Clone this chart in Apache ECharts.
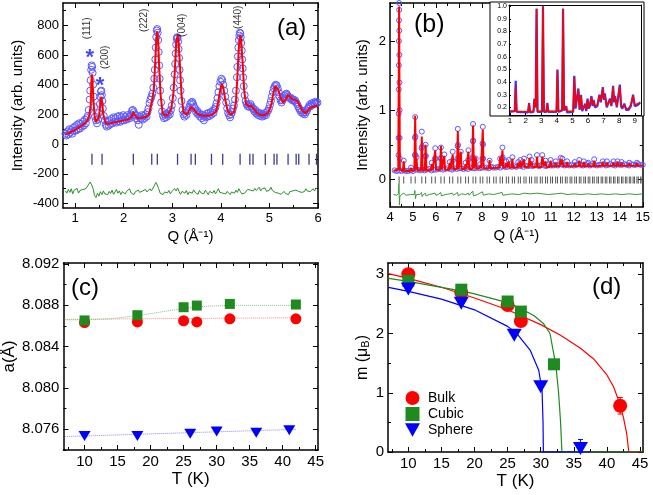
<!DOCTYPE html>
<html><head><meta charset="utf-8">
<script src="https://cdn.jsdelivr.net/npm/echarts@6/dist/echarts.min.js"></script>
<style>html,body{margin:0;padding:0;background:#fff}#c{width:653px;height:495px}</style>
</head><body><div id="c"></div>
<script>
// ---------- Panel (a) ----------
const aCalc = [[0.80,65],[0.85,72],[0.90,80],[0.95,88],[1.00,96],[1.05,106],[1.10,118],[1.15,128],[1.20,141],[1.25,160],[1.29,190],[1.32,260],[1.335,420],[1.345,470],[1.36,400],[1.38,280],[1.40,190],[1.43,150],[1.46,145],[1.49,180],[1.52,280],[1.54,320],[1.56,270],[1.58,200],[1.61,160],[1.65,135],[1.70,138],[1.80,145],[1.90,152],[2.00,160],[2.10,168],[2.16,185],[2.20,215],[2.24,190],[2.28,175],[2.35,176],[2.45,182],[2.52,200],[2.56,260],[2.59,305],[2.62,365],[2.65,560],[2.67,700],[2.69,760],[2.71,690],[2.73,520],[2.76,330],[2.80,210],[2.85,190],[2.92,200],[2.98,240],[3.02,330],[3.05,480],[3.08,680],[3.11,735],[3.13,680],[3.16,520],[3.19,330],[3.23,215],[3.28,200],[3.33,215],[3.38,250],[3.41,258],[3.45,235],[3.49,215],[3.55,198],[3.65,190],[3.75,192],[3.82,198],[3.90,220],[3.95,290],[3.99,370],[4.02,405],[4.05,380],[4.09,300],[4.14,225],[4.20,198],[4.27,215],[4.31,280],[4.34,450],[4.37,650],[4.40,735],[4.42,690],[4.45,540],[4.48,360],[4.52,270],[4.57,255],[4.62,258],[4.67,240],[4.73,215],[4.80,198],[4.90,195],[4.98,215],[5.04,270],[5.08,340],[5.12,390],[5.15,398],[5.19,360],[5.23,310],[5.28,280],[5.33,300],[5.38,330],[5.43,315],[5.48,300],[5.53,298],[5.58,285],[5.63,255],[5.68,225],[5.74,208],[5.79,225],[5.84,245],[5.90,252],[5.96,258],[6.00,255]];
const aObs = [[0.80,70],[0.82,58],[0.84,85],[0.86,65],[0.88,100],[0.90,78],[0.92,95],[0.94,70],[0.96,110],[0.98,88],[1.00,120],[1.02,92],[1.04,130],[1.06,100],[1.08,140],[1.10,105],[1.12,135],[1.14,118],[1.16,150],[1.18,125],[1.20,165],[1.22,140],[1.24,175],[1.26,190],[1.28,230],[1.30,300],[1.31,360],[1.32,430],[1.33,500],[1.34,530],[1.35,520],[1.36,480],[1.37,400],[1.38,320],[1.39,250],[1.41,185],[1.43,160],[1.45,140],[1.47,165],[1.49,210],[1.51,270],[1.52,320],[1.53,355],[1.54,360],[1.55,330],[1.56,290],[1.57,240],[1.59,190],[1.61,160],[1.63,130],[1.65,118],[1.67,150],[1.69,125],[1.71,160],[1.73,135],[1.75,170],[1.77,140],[1.79,180],[1.81,150],[1.83,175],[1.85,145],[1.87,185],[1.89,155],[1.91,190],[1.93,150],[1.95,180],[1.97,160],[1.99,195],[2.01,160],[2.03,185],[2.05,165],[2.07,195],[2.09,170],[2.11,185],[2.13,175],[2.15,200],[2.17,225],[2.19,230],[2.21,215],[2.23,200],[2.25,175],[2.27,190],[2.29,160],[2.31,130],[2.33,185],[2.35,170],[2.37,195],[2.39,165],[2.41,190],[2.43,175],[2.45,200],[2.47,185],[2.49,215],[2.51,240],[2.53,275],[2.55,300],[2.57,320],[2.59,340],[2.61,380],[2.63,440],[2.64,500],[2.65,570],[2.66,650],[2.67,720],[2.68,765],[2.69,775],[2.70,750],[2.71,700],[2.72,620],[2.73,530],[2.74,440],[2.75,360],[2.77,280],[2.79,220],[2.81,190],[2.83,175],[2.85,200],[2.87,180],[2.89,205],[2.91,190],[2.93,215],[2.95,200],[2.97,230],[2.99,260],[3.01,310],[3.03,380],[3.05,470],[3.06,540],[3.07,610],[3.08,670],[3.09,710],[3.10,720],[3.11,715],[3.12,690],[3.13,640],[3.14,580],[3.15,500],[3.16,430],[3.17,360],[3.19,290],[3.21,230],[3.23,200],[3.25,185],[3.27,210],[3.29,195],[3.31,220],[3.33,230],[3.35,250],[3.37,270],[3.39,280],[3.41,285],[3.43,270],[3.45,250],[3.47,240],[3.49,215],[3.51,225],[3.53,200],[3.55,210],[3.57,185],[3.59,200],[3.61,175],[3.63,195],[3.65,160],[3.67,190],[3.69,180],[3.71,205],[3.73,185],[3.75,210],[3.77,190],[3.79,215],[3.81,200],[3.83,225],[3.85,210],[3.87,235],[3.89,250],[3.91,275],[3.93,310],[3.95,350],[3.97,390],[3.99,420],[4.01,440],[4.03,430],[4.05,400],[4.07,360],[4.09,320],[4.11,280],[4.13,240],[4.15,210],[4.17,195],[4.19,180],[4.21,200],[4.23,215],[4.25,240],[4.27,260],[4.29,300],[4.31,360],[4.33,450],[4.34,520],[4.35,590],[4.36,650],[4.37,700],[4.38,730],[4.39,750],[4.40,745],[4.41,720],[4.42,680],[4.43,630],[4.44,570],[4.45,510],[4.46,450],[4.47,390],[4.49,330],[4.51,290],[4.53,270],[4.55,255],[4.57,265],[4.59,250],[4.61,270],[4.63,255],[4.65,245],[4.67,235],[4.69,220],[4.71,230],[4.73,205],[4.75,215],[4.77,195],[4.79,210],[4.81,190],[4.83,205],[4.85,185],[4.87,200],[4.89,190],[4.91,210],[4.93,195],[4.95,215],[4.97,225],[4.99,240],[5.01,265],[5.03,290],[5.05,320],[5.07,350],[5.09,375],[5.11,390],[5.13,400],[5.15,395],[5.17,375],[5.19,350],[5.21,320],[5.23,295],[5.25,280],[5.27,295],[5.29,310],[5.31,325],[5.33,335],[5.35,340],[5.37,330],[5.39,320],[5.41,315],[5.43,305],[5.45,310],[5.47,295],[5.49,300],[5.51,290],[5.53,295],[5.55,280],[5.57,270],[5.59,255],[5.61,240],[5.63,230],[5.65,215],[5.67,225],[5.69,205],[5.71,215],[5.73,200],[5.75,215],[5.77,225],[5.79,240],[5.81,250],[5.83,265],[5.85,255],[5.87,275],[5.89,265],[5.91,280],[5.93,270],[5.95,285],[5.97,275],[5.99,280]];
const aDiff = [[0.80,-315],[0.83,-330],[0.86,-305],[0.89,-325],[0.92,-300],[0.95,-335],[0.98,-310],[1.01,-320],[1.04,-298],[1.07,-330],[1.10,-312],[1.13,-325],[1.16,-305],[1.19,-318],[1.22,-300],[1.25,-290],[1.28,-270],[1.31,-255],[1.34,-275],[1.37,-300],[1.40,-345],[1.43,-360],[1.46,-330],[1.49,-350],[1.52,-320],[1.55,-340],[1.58,-315],[1.61,-335],[1.64,-325],[1.67,-340],[1.70,-318],[1.73,-332],[1.76,-310],[1.79,-338],[1.82,-322],[1.85,-305],[1.88,-330],[1.91,-315],[1.94,-340],[1.97,-320],[2.00,-312],[2.03,-335],[2.06,-318],[2.09,-325],[2.12,-300],[2.15,-328],[2.18,-315],[2.21,-340],[2.24,-320],[2.27,-330],[2.30,-310],[2.33,-325],[2.36,-335],[2.39,-315],[2.42,-328],[2.45,-305],[2.48,-322],[2.51,-318],[2.54,-300],[2.57,-315],[2.60,-305],[2.63,-280],[2.66,-258],[2.69,-275],[2.72,-300],[2.75,-330],[2.78,-318],[2.81,-340],[2.84,-322],[2.87,-310],[2.90,-328],[2.93,-312],[2.96,-335],[2.99,-318],[3.02,-325],[3.05,-300],[3.08,-315],[3.11,-295],[3.14,-320],[3.17,-338],[3.20,-318],[3.23,-305],[3.26,-330],[3.29,-312],[3.32,-340],[3.35,-322],[3.38,-315],[3.41,-330],[3.44,-308],[3.47,-325],[3.50,-320],[3.53,-338],[3.56,-312],[3.59,-328],[3.62,-318],[3.65,-335],[3.68,-310],[3.71,-325],[3.74,-340],[3.77,-318],[3.80,-322],[3.83,-330],[3.86,-312],[3.89,-335],[3.92,-318],[3.95,-300],[3.98,-325],[4.01,-315],[4.04,-330],[4.07,-320],[4.10,-335],[4.13,-318],[4.16,-328],[4.19,-340],[4.22,-322],[4.25,-315],[4.28,-330],[4.31,-310],[4.34,-325],[4.37,-300],[4.40,-318],[4.43,-335],[4.46,-322],[4.49,-330],[4.52,-340],[4.55,-305],[4.58,-295],[4.61,-310],[4.64,-300],[4.67,-315],[4.70,-298],[4.73,-312],[4.76,-305],[4.79,-290],[4.82,-315],[4.85,-300],[4.88,-308],[4.91,-295],[4.94,-318],[4.97,-305],[5.00,-310],[5.03,-290],[5.06,-312],[5.09,-300],[5.12,-325],[5.15,-318],[5.18,-330],[5.21,-322],[5.24,-338],[5.27,-325],[5.30,-318],[5.33,-332],[5.36,-325],[5.39,-340],[5.42,-320],[5.45,-330],[5.48,-315],[5.51,-328],[5.54,-310],[5.57,-322],[5.60,-318],[5.63,-305],[5.66,-325],[5.69,-312],[5.72,-320],[5.75,-300],[5.78,-315],[5.81,-305],[5.84,-320],[5.87,-310],[5.90,-300],[5.93,-315],[5.96,-295],[5.99,-305]];
const aBraggQ = [1.346,1.554,2.198,2.577,2.692,3.108,3.387,3.475,3.807,4.038,4.396,4.597,4.662,4.915,5.096,5.155,5.384,5.550,5.604,5.815,5.969];
const aBraggLevel = -102;
const aHklQ = [1.25,1.63,2.42,3.20,4.36];
const aHklI = [780,585,834,800,854];
const aHklText = ['(111)','(200)','(222)','(004)','(440)'];
const aStarQ = [1.30,1.51];
const aStarI = [579,391];

// ---------- Panel (b) ----------
const bCalc = [[4.15,0.12],[4.36,0.14],[4.396,2.5],[4.43,0.14],[4.56,0.12],[4.597,0.26],[4.63,0.12],[4.88,0.12],[4.915,0.16],[4.95,0.12],[5.06,0.13],[5.096,0.92],[5.13,0.14],[5.155,0.30],[5.19,0.13],[5.35,0.13],[5.384,0.62],[5.42,0.13],[5.515,0.13],[5.55,0.50],[5.585,0.13],[5.78,0.13],[5.815,0.22],[5.85,0.13],[5.935,0.13],[5.969,0.42],[6.005,0.14],[6.18,0.14],[6.217,0.48],[6.25,0.14],[6.325,0.14],[6.361,0.34],[6.395,0.14],[6.56,0.14],[6.594,0.24],[6.63,0.14],[6.695,0.14],[6.73,0.36],[6.765,0.15],[6.915,0.15],[6.951,0.70],[6.985,0.15],[7.045,0.15],[7.08,0.40],[7.115,0.15],[7.255,0.15],[7.29,0.22],[7.325,0.15],[7.378,0.15],[7.413,0.40],[7.448,0.15],[7.58,0.15],[7.614,0.78],[7.65,0.16],[7.70,0.16],[7.732,0.32],[7.765,0.16],[7.89,0.16],[7.925,0.20],[7.96,0.16],[8.003,0.16],[8.038,0.72],[8.073,0.16],[8.30,0.16],[8.334,0.28],[8.37,0.16],[8.755,0.17],[8.792,0.32],[8.84,0.20],[8.894,0.42],[8.93,0.17],[9.03,0.17],[9.063,0.24],[9.11,0.18],[9.162,0.26],[9.20,0.17],[9.29,0.17],[9.325,0.30],[9.36,0.17],[9.545,0.17],[9.581,0.24],[9.63,0.18],[9.675,0.27],[9.71,0.17],[9.795,0.18],[9.83,0.29],[9.865,0.18],[10.035,0.18],[10.072,0.31],[10.115,0.19],[10.162,0.26],[10.20,0.18],[10.36,0.18],[10.397,0.33],[10.435,0.18],[10.59,0.18],[10.627,0.33],[10.70,0.19],[10.768,0.26],[10.805,0.18],[10.955,0.18],[10.99,0.27],[11.025,0.19],[11.17,0.19],[11.207,0.24],[11.245,0.19],[11.385,0.19],[11.421,0.30],[11.46,0.21],[11.50,0.28],[11.54,0.19],[11.67,0.19],[11.708,0.25],[11.745,0.19],[12.00,0.19],[12.039,0.23],[12.075,0.19],[12.20,0.19],[12.238,0.27],[12.275,0.19],[12.40,0.19],[12.434,0.25],[12.47,0.19],[12.59,0.19],[12.626,0.23],[12.66,0.19],[12.85,0.19],[12.887,0.27],[12.925,0.19],[13.22,0.195],[13.256,0.25],[13.29,0.195],[13.40,0.195],[13.438,0.24],[13.475,0.195],[13.69,0.195],[13.727,0.24],[13.76,0.195],[13.865,0.195],[13.901,0.25],[13.935,0.195],[14.04,0.195],[14.074,0.24],[14.11,0.195],[14.375,0.195],[14.413,0.23],[14.45,0.195],[14.71,0.195],[14.745,0.23],[14.78,0.195],[15.0,0.20]];
const bObsBg = [[4.2,0.13],[4.3,0.12],[4.4,0.13],[4.5,0.12],[4.6,0.13],[4.7,0.12],[4.8,0.12],[4.9,0.13],[5.0,0.12],[5.1,0.14],[5.2,0.14],[5.3,0.13],[5.4,0.14],[5.5,0.13],[5.6,0.14],[5.7,0.15],[5.8,0.13],[5.9,0.14],[6.0,0.14],[6.1,0.15],[6.2,0.15],[6.3,0.14],[6.4,0.15],[6.5,0.16],[6.6,0.15],[6.7,0.14],[6.8,0.16],[6.9,0.15],[7.0,0.16],[7.1,0.16],[7.2,0.15],[7.3,0.16],[7.4,0.15],[7.5,0.17],[7.6,0.16],[7.7,0.16],[7.8,0.17],[7.9,0.16],[8.0,0.17],[8.1,0.17],[8.2,0.17],[8.3,0.16],[8.4,0.18],[8.5,0.17],[8.6,0.17],[8.7,0.18],[8.8,0.17],[8.9,0.19],[9.0,0.18],[9.1,0.18],[9.2,0.19],[9.3,0.18],[9.4,0.19],[9.5,0.18],[9.6,0.20],[9.7,0.19],[9.8,0.18],[9.9,0.20],[10.0,0.19],[10.1,0.20],[10.2,0.19],[10.3,0.20],[10.4,0.20],[10.5,0.19],[10.6,0.21],[10.7,0.20],[10.8,0.19],[10.9,0.21],[11.0,0.20],[11.1,0.20],[11.2,0.21],[11.3,0.20],[11.4,0.22],[11.5,0.21],[11.6,0.20],[11.7,0.21],[11.8,0.20],[11.9,0.21],[12.0,0.20],[12.1,0.21],[12.2,0.22],[12.3,0.21],[12.4,0.20],[12.5,0.21],[12.6,0.22],[12.7,0.20],[12.8,0.22],[12.9,0.21],[13.0,0.20],[13.1,0.21],[13.2,0.21],[13.3,0.22],[13.4,0.20],[13.5,0.21],[13.6,0.22],[13.7,0.21],[13.8,0.20],[13.9,0.22],[14.0,0.21],[14.1,0.21],[14.2,0.22],[14.3,0.21],[14.4,0.20],[14.5,0.22],[14.6,0.21],[14.7,0.21],[14.8,0.22],[14.9,0.21],[15.0,0.21]];
const bObsPeak = [[4.396,2.55],[4.392,2.3],[4.388,2.0],[4.385,1.65],[4.382,1.3],[4.378,0.95],[4.374,0.6],[4.37,0.35],[4.40,2.45],[4.404,2.15],[4.408,1.8],[4.412,1.4],[4.416,1.0],[4.42,0.6],[4.425,0.3],[4.597,0.27],[4.915,0.17],[5.096,0.90],[5.086,0.6],[5.106,0.62],[5.082,0.35],[5.11,0.35],[5.155,0.32],[5.384,0.69],[5.374,0.45],[5.394,0.47],[5.55,0.50],[5.54,0.33],[5.56,0.34],[5.815,0.24],[5.969,0.45],[5.959,0.30],[5.979,0.30],[6.217,0.46],[6.207,0.30],[6.227,0.31],[6.361,0.36],[6.594,0.25],[6.73,0.40],[6.72,0.27],[6.951,0.73],[6.941,0.48],[6.961,0.50],[6.935,0.30],[6.967,0.28],[7.08,0.40],[7.29,0.24],[7.413,0.42],[7.403,0.28],[7.614,0.80],[7.604,0.55],[7.624,0.56],[7.598,0.32],[7.63,0.30],[7.732,0.30],[7.925,0.22],[8.038,0.76],[8.028,0.52],[8.048,0.50],[8.022,0.30],[8.054,0.30],[8.334,0.27],[8.792,0.30],[8.894,0.46],[8.884,0.30],[8.904,0.32],[9.063,0.26],[9.162,0.28],[9.325,0.32],[9.581,0.25],[9.675,0.28],[9.83,0.30],[10.072,0.33],[10.162,0.28],[10.397,0.35],[10.627,0.35],[10.768,0.27],[10.99,0.28],[11.207,0.26],[11.421,0.31],[11.50,0.30],[11.708,0.26],[12.039,0.25],[12.238,0.28],[12.434,0.26],[12.626,0.24],[12.887,0.29],[13.256,0.26],[13.438,0.26],[13.727,0.26],[13.901,0.26],[14.074,0.25],[14.413,0.24],[14.745,0.24]];
const bDiff = [[4.15,-0.22],[4.30,-0.23],[4.37,-0.20],[4.39,-0.06],[4.40,-0.20],[4.41,-0.37],[4.43,-0.25],[4.50,-0.22],[4.60,-0.20],[4.70,-0.23],[4.90,-0.22],[5.05,-0.22],[5.08,-0.16],[5.11,-0.28],[5.14,-0.22],[5.30,-0.22],[5.37,-0.19],[5.40,-0.25],[5.45,-0.22],[5.54,-0.20],[5.57,-0.24],[5.70,-0.22],[5.96,-0.20],[6.00,-0.23],[6.10,-0.22],[6.21,-0.19],[6.24,-0.24],[6.40,-0.22],[6.60,-0.21],[6.72,-0.20],[6.76,-0.23],[6.94,-0.19],[6.97,-0.24],[7.10,-0.21],[7.30,-0.22],[7.41,-0.20],[7.44,-0.23],[7.60,-0.17],[7.63,-0.24],[7.80,-0.22],[8.03,-0.18],[8.06,-0.23],[8.30,-0.21],[8.50,-0.22],[8.88,-0.19],[8.91,-0.23],[9.10,-0.22],[9.30,-0.21],[9.60,-0.22],[9.85,-0.20],[10.10,-0.21],[10.40,-0.20],[10.65,-0.21],[10.90,-0.22],[11.20,-0.21],[11.45,-0.20],[11.70,-0.22],[12.00,-0.21],[12.30,-0.22],[12.60,-0.21],[12.90,-0.22],[13.20,-0.21],[13.50,-0.22],[13.80,-0.21],[14.10,-0.22],[14.40,-0.21],[14.70,-0.22],[15.00,-0.21]];
const bBraggQ = [4.396,4.597,4.915,5.096,5.384,5.550,5.815,5.969,6.217,6.361,6.594,6.730,6.951,7.080,7.290,7.413,7.614,7.732,7.925,8.038,8.224,8.334,8.513,8.619,8.792,8.894,9.063,9.162,9.325,9.422,9.581,9.675,9.830,9.921,10.072,10.162,10.309,10.397,10.541,10.627,10.768,10.851,10.990,11.072,11.207,11.288,11.421,11.500,11.631,11.708,11.837,11.913,12.039,12.114,12.238,12.311,12.434,12.506,12.626,12.698,12.816,12.887,13.003,13.073,13.188,13.256,13.370,13.438,13.549,13.616,13.727,13.792,13.901,13.966,14.074,14.138,14.244,14.308,14.413,14.476,14.580,14.642,14.745,14.806,14.907,14.968];
const bBraggLevel = -0.01;
// inset
const bInCalc = [[0.95,0.17],[1.30,0.17],[1.36,0.37],[1.42,0.17],[2.15,0.165],[2.22,0.23],[2.28,0.165],[2.50,0.17],[2.56,0.26],[2.64,0.20],[2.70,0.98],[2.76,0.17],[3.05,0.17],[3.11,1.0],[3.17,0.17],[3.33,0.17],[3.39,0.23],[3.45,0.17],[3.98,0.17],[4.04,0.49],[4.10,0.17],[4.34,0.18],[4.40,0.98],[4.46,0.18],[4.55,0.17],[4.60,0.21],[4.65,0.17],[5.05,0.17],[5.12,0.44],[5.20,0.20],[5.28,0.21],[5.38,0.34],[5.46,0.19],[5.55,0.29],[5.63,0.18],[5.75,0.19],[5.82,0.22],[5.89,0.18],[5.97,0.26],[6.05,0.20],[6.12,0.22],[6.22,0.28],[6.30,0.22],[6.36,0.25],[6.45,0.21],[6.60,0.22],[6.73,0.29],[6.82,0.25],[6.95,0.35],[7.02,0.27],[7.08,0.30],[7.20,0.21],[7.30,0.22],[7.41,0.26],[7.50,0.22],[7.61,0.36],[7.68,0.25],[7.73,0.28],[7.85,0.21],[7.95,0.22],[8.04,0.37],[8.12,0.22],[8.20,0.20],[8.33,0.22],[8.45,0.19],[8.60,0.19],[8.75,0.22],[8.89,0.29],[9.00,0.22],[9.10,0.21],[9.20,0.23],[9.35,0.23]];
const bInObs = [[0.95,0.165],[1.30,0.17],[1.36,0.41],[1.42,0.165],[2.15,0.16],[2.22,0.235],[2.28,0.16],[2.50,0.165],[2.56,0.27],[2.64,0.20],[2.70,0.98],[2.76,0.165],[3.05,0.165],[3.11,1.0],[3.17,0.165],[3.33,0.165],[3.39,0.235],[3.45,0.165],[3.98,0.165],[4.04,0.50],[4.10,0.165],[4.34,0.175],[4.40,0.98],[4.46,0.175],[4.55,0.165],[4.60,0.21],[4.65,0.16],[5.05,0.165],[5.12,0.45],[5.20,0.19],[5.28,0.20],[5.38,0.35],[5.46,0.18],[5.55,0.30],[5.63,0.17],[5.75,0.18],[5.82,0.23],[5.89,0.17],[5.97,0.27],[6.05,0.19],[6.12,0.21],[6.22,0.29],[6.30,0.21],[6.36,0.26],[6.45,0.20],[6.60,0.21],[6.73,0.30],[6.82,0.24],[6.95,0.36],[7.02,0.26],[7.08,0.31],[7.20,0.20],[7.30,0.21],[7.41,0.27],[7.50,0.21],[7.61,0.37],[7.68,0.24],[7.73,0.29],[7.85,0.20],[7.95,0.21],[8.04,0.38],[8.12,0.21],[8.20,0.19],[8.33,0.23],[8.45,0.18],[8.60,0.18],[8.75,0.21],[8.89,0.30],[9.00,0.21],[9.10,0.20],[9.20,0.22],[9.35,0.24]];

// ---------- Panel (c) ----------
const cBulkT = [10,18,25,27,32,42];
const cBulkA = [8.08634,8.0864,8.08651,8.0864,8.0867,8.0867];
const cCubicT = [10,18,25,27,32,42];
const cCubicA = [8.08654,8.08705,8.08782,8.08798,8.08814,8.08808];
const cSphereT = [10,18,26,30,36,41];
const cSphereA = [8.07535,8.07535,8.07558,8.07578,8.07568,8.0759];
const cFitBulk = [[7,8.08665],[42,8.0868]];
const cFitCubic = [[7,8.0866],[10,8.0866],[14,8.0867],[18,8.0870],[22,8.0874],[25,8.0877],[28,8.0879],[32,8.0880],[42,8.0880]];
const cFitSphere = [[7,8.0753],[42,8.0760]];

// ---------- Panel (d) ----------
const dBulkT = [10,18,25,27,42];
const dBulkM = [3.0,2.69,2.48,2.21,0.78];
const dCubicT = [10,18,25,27,32];
const dCubicM = [2.89,2.74,2.54,2.37,1.48];
const dSphereT = [10,18,26,30,36];
const dSphereM = [2.75,2.51,1.97,1.10,0.06];
const dFitBulk = [[7,3.01],[10,2.93],[15,2.78],[20,2.6],[25,2.4],[27,2.3],[30,2.15],[33,1.97],[36,1.75],[38,1.57],[40,1.3],[41,1.1],[42,0.8],[42.5,0.58],[43,0.3],[43.3,0],[45.5,0]];
const dFitCubic = [[7,2.93],[10,2.88],[15,2.78],[18,2.72],[20,2.67],[25,2.52],[27,2.42],[29,2.3],[30.4,2.17],[31.4,2.0],[31.9,1.7],[32.3,1.45],[32.7,1.0],[33.0,0.5],[33.2,0],[45.5,0]];
const dFitSphere = [[7,2.78],[10,2.71],[15,2.58],[20,2.4],[25,2.12],[26.4,2.0],[28.4,1.72],[29.7,1.38],[30.2,1.04],[30.35,0.5],[30.4,0],[37.5,0]];
const dErrBulk = [[42,0.64],[42,0.92]];
const dErrSphere = [[36,0.0],[36,0.21]];
const dLegend = ['Bulk','Cubic','Sphere'];

// ---------- build ----------
const FONT = "'Liberation Sans', Arial, Helvetica, sans-serif";
const xAxes = [], yAxes = [];
function mk(list, gi, lim, majors, minors, pos, opp, o) {
  o = o || {};
  const lw = o.lw || 1.5, tl = o.tl || 5, tlm = o.tlm || 3;
  const common = {type:'value', gridIndex:gi, min:lim[0], max:lim[1], splitLine:{show:false}, z:o.z||0, silent:true};
  const idx = list.length;
  const nts = {fontSize:o.nfs||15, color:'#000', fontFamily:FONT};
  if (o.rich) nts.rich = o.rich;
  const lab = {show:true, customValues:majors, margin:(o.margin==null?4:o.margin), fontSize:o.fs||13, color:'#000', fontFamily:FONT};
  if (o.fmt) lab.formatter = o.fmt;
  list.push(Object.assign({}, common, {
    position:pos,
    axisLine:{show:true, onZero:false, lineStyle:{color:'#000', width:lw}},
    axisTick:{show:true, inside:true, length:tl, customValues:majors, lineStyle:{color:'#000', width:1}},
    axisLabel:lab,
    name:o.name||'', nameLocation:'middle', nameGap:o.gap||20, nameTextStyle:nts
  }));
  const tickOnly = (p, vals, len, line) => Object.assign({}, common, {
    position:p,
    axisLine:{show:line, onZero:false, lineStyle:{color:'#000', width:lw}},
    axisTick:{show:vals.length>0, inside:true, length:len, customValues:vals.length?vals:[lim[0]], lineStyle:{color:'#000', width:1}},
    axisLabel:{show:false}
  });
  if (minors.length) list.push(tickOnly(pos, minors, tlm, false));
  list.push(tickOnly(opp, o.oppTicks===false?[]:majors, tl, true));
  if (minors.length) list.push(tickOnly(opp, minors, tlm, false));
  return idx;
}
const grids = [
  {left:63, top:3, width:255, height:205},
  {left:390, top:3, width:253, height:204},
  {left:509, top:5, width:132, height:110},
  {left:63, top:263, width:255, height:187},
  {left:388, top:263, width:255, height:189}
];
const QNAME = 'Q (Å⁻¹)';
const ax = mk(xAxes,0,[0.75,6],[1,2,3,4,5,6],[1.5,2.5,3.5,4.5,5.5],'bottom','top',{name:QNAME,gap:21,nfs:15,fs:13});
const ay = mk(yAxes,0,[-430,950],[-400,-200,0,200,400,600,800],[-300,-100,100,300,500,700,900],'left','right',{name:'Intensity (arb. units)',gap:38,nfs:15,fs:13});
const bx = mk(xAxes,1,[4,15],[4,5,6,7,8,9,10,11,12,13,14,15],[4.5,5.5,6.5,7.5,8.5,9.5,10.5,11.5,12.5,13.5,14.5],'bottom','top',{name:QNAME,gap:21,nfs:15,fs:13});
const by = mk(yAxes,1,[-0.4,2.55],[0,1,2],[0.5,1.5,2.5],'left','right',{name:'Intensity (arb. units)',gap:20,nfs:15,fs:13});
const ix = mk(xAxes,2,[0.93,9.4],[1,2,3,4,5,6,7,8,9],[],'bottom','top',{fs:8,margin:2,tl:2,lw:1,z:12,oppTicks:false});
const iy = mk(yAxes,2,[0.14,1.01],[0.2,0.3,0.4,0.5,0.6,0.7,0.8,0.9,1.0],[],'left','right',{fs:7,margin:2,tl:2,lw:1,z:12,oppTicks:false,fmt:v=>v.toFixed(1)});
const cx = mk(xAxes,3,[6.8,45.35],[10,15,20,25,30,35,40,45],[7.5,12.5,17.5,22.5,27.5,32.5,37.5,42.5],'bottom','top',{name:'T (K)',gap:21,nfs:17,fs:15});
const cy = mk(yAxes,3,[8.074,8.0921],[8.076,8.080,8.084,8.088,8.092],[8.074,8.078,8.082,8.086,8.090],'left','right',{name:'a(Å)',gap:43,nfs:17,fs:15,fmt:v=>v.toFixed(3)});
const dx = mk(xAxes,4,[6.93,45.45],[10,15,20,25,30,35,40,45],[7.5,12.5,17.5,22.5,27.5,32.5,37.5,42.5],'bottom','top',{name:'T (K)',gap:21,nfs:17,fs:15});
const dy = mk(yAxes,4,[0,3.19],[0,1,2,3],[0.5,1.5,2.5],'left','right',{name:'{a|m (μ}{b|B}{a|)}',gap:16,nfs:16,fs:15,
  rich:{a:{fontSize:16,fontFamily:FONT,color:'#000'},b:{fontSize:11,fontFamily:FONT,color:'#000',padding:[7,0,0,0]}}});

const zip = (xs, ys) => xs.map((v,i)=>[v, ys[i]]);
const RED='#ff0000', GREEN='#1f8a1f', BLUE='#0000ff';
const TRI = 'path://M0,0L10,0L5,9Z';
const SQ = 'path://M0,0L10,0L10,10L0,10Z';
const S = (gx, gy, extra) => Object.assign({xAxisIndex:gx, yAxisIndex:gy, animation:false}, extra);
const series = [
  // (a)
  S(ax,ay,{type:'scatter', data:aObs, symbol:'circle', symbolSize:7, itemStyle:{color:'rgba(0,0,0,0)', borderColor:'#5a5aff', borderWidth:1, opacity:1}, z:2}),
  S(ax,ay,{type:'line', data:aCalc, showSymbol:false, lineStyle:{color:RED, width:2}, z:3}),
  S(ax,ay,{type:'line', data:aDiff, showSymbol:false, lineStyle:{color:'#2a8f2a', width:1}, z:3}),
  S(ax,ay,{type:'scatter', data:aBraggQ.map(q=>[q,aBraggLevel]), symbol:'rect', symbolSize:[1.3,11], itemStyle:{color:'#3c3c8c', opacity:1}, z:3}),
  S(ax,ay,{type:'scatter', data:aHklQ.map((q,i)=>({value:[q,aHklI[i]], name:aHklText[i]})), symbolSize:0,
    label:{show:true, position:'inside', rotate:90, formatter:'{b}', fontSize:10, color:'#000', fontFamily:FONT}, z:4}),
  S(ax,ay,{type:'scatter', data:zip(aStarQ,aStarI), symbolSize:0,
    label:{show:true, position:'inside', formatter:'*', fontSize:22, fontWeight:'bold', color:'#1a1aee', fontFamily:FONT}, z:4}),
  // (b)
  S(bx,by,{type:'scatter', data:bObsBg.concat(bObsPeak), symbol:'circle', symbolSize:5, itemStyle:{color:'rgba(0,0,0,0)', borderColor:'#5a5aff', borderWidth:1, opacity:1}, z:2}),
  S(bx,by,{type:'line', data:bCalc, showSymbol:false, lineStyle:{color:RED, width:2}, z:3}),
  S(bx,by,{type:'line', data:bDiff, showSymbol:false, lineStyle:{color:'#3a9a3a', width:1}, z:3}),
  S(bx,by,{type:'scatter', data:bBraggQ.map(q=>[q,bBraggLevel]), symbol:'rect', symbolSize:[1,7], itemStyle:{color:'#555', opacity:1}, z:3}),
  // inset
  S(ix,iy,{type:'line', data:bInObs, showSymbol:false, lineStyle:{color:'#3535ff', width:2.2}, z:10}),
  S(ix,iy,{type:'line', data:bInCalc, showSymbol:false, lineStyle:{color:RED, width:1.5}, z:11}),
  // (c)
  S(cx,cy,{type:'line', data:cFitBulk, showSymbol:false, lineStyle:{color:'#f78a8a', width:1, type:'dotted'}, z:2}),
  S(cx,cy,{type:'line', data:cFitCubic, showSymbol:false, lineStyle:{color:'#7cc27c', width:1, type:'dotted'}, z:2}),
  S(cx,cy,{type:'line', data:cFitSphere, showSymbol:false, lineStyle:{color:'#8a8af7', width:1, type:'dotted'}, z:2}),
  S(cx,cy,{type:'scatter', data:zip(cBulkT,cBulkA), symbol:'circle', symbolSize:11, itemStyle:{color:RED, opacity:1}, z:3}),
  S(cx,cy,{type:'scatter', data:zip(cCubicT,cCubicA), symbol:'rect', symbolSize:10, itemStyle:{color:GREEN, opacity:1}, z:4}),
  S(cx,cy,{type:'scatter', data:zip(cSphereT,cSphereA), symbol:TRI, symbolSize:[12,10], itemStyle:{color:BLUE, opacity:1}, z:3}),
  // (d)
  S(dx,dy,{type:'line', data:dFitBulk, showSymbol:false, lineStyle:{color:RED, width:1.2}, z:2}),
  S(dx,dy,{type:'line', data:dFitCubic, showSymbol:false, lineStyle:{color:GREEN, width:1.2}, z:2}),
  S(dx,dy,{type:'line', data:dFitSphere, showSymbol:false, lineStyle:{color:BLUE, width:1.2}, z:2}),
  S(dx,dy,{type:'line', data:dErrBulk, showSymbol:true, symbol:'rect', symbolSize:[5,1], itemStyle:{color:RED}, lineStyle:{color:RED, width:1}, z:2}),
  S(dx,dy,{type:'line', data:dErrSphere, showSymbol:true, symbol:'rect', symbolSize:[5,1], itemStyle:{color:BLUE}, lineStyle:{color:BLUE, width:1}, z:2}),
  S(dx,dy,{type:'scatter', name:dLegend[0], data:zip(dBulkT,dBulkM), symbol:'circle', symbolSize:14, itemStyle:{color:RED, opacity:1}, z:3}),
  S(dx,dy,{type:'scatter', name:dLegend[1], data:zip(dCubicT,dCubicM), symbol:SQ, symbolSize:12, itemStyle:{color:GREEN, opacity:1}, z:3}),
  S(dx,dy,{type:'scatter', name:dLegend[2], data:zip(dSphereT,dSphereM), symbol:TRI, symbolSize:[15,13], itemStyle:{color:BLUE, opacity:1}, z:3})
];

const chart = echarts.init(document.getElementById('c'), null, {renderer:'canvas'});
chart.setOption({
  animation:false,
  backgroundColor:'#fff',
  textStyle:{fontFamily:FONT},
  grid:grids,
  xAxis:xAxes,
  yAxis:yAxes,
  legend:{left:400, top:386, orient:'vertical', itemWidth:15, itemHeight:14, itemGap:2, selectedMode:false,
    data:[{name:dLegend[0]},{name:dLegend[1], icon:'path://M1,1L9,1L9,9L1,9Z'},{name:dLegend[2]}],
    textStyle:{fontSize:14, fontFamily:FONT, color:'#000', padding:[0,0,0,3]}},
  graphic:[
    {type:'rect', shape:{x:490, y:2, width:154, height:114}, style:{fill:'#fff', stroke:'#000', lineWidth:1}, z:8, silent:true},
    {type:'text', left:277, top:16, style:{text:'(a)', font:"24px 'Liberation Sans', Arial", fill:'#000'}, z:20},
    {type:'text', left:414, top:13, style:{text:'(b)', font:"25px 'Liberation Sans', Arial", fill:'#000'}, z:20},
    {type:'text', left:71, top:276, style:{text:'(c)', font:"24px 'Liberation Sans', Arial", fill:'#000'}, z:20},
    {type:'text', left:592, top:275, style:{text:'(d)', font:"24px 'Liberation Sans', Arial", fill:'#000'}, z:20}
  ],
  series:series
});
</script></body></html>
